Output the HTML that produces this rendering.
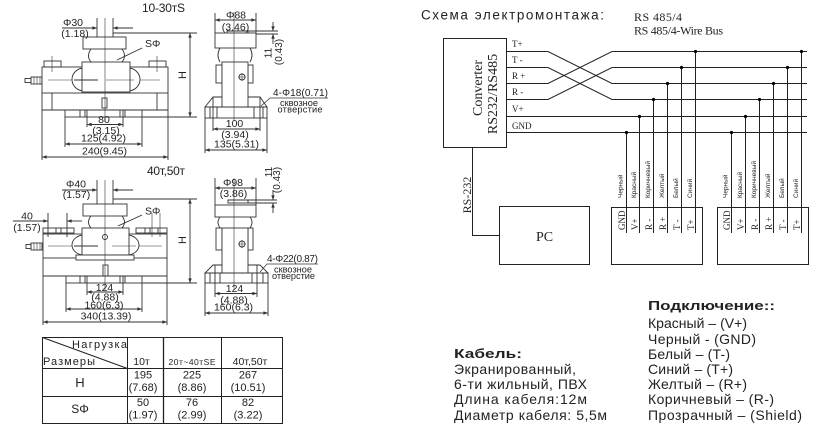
<!DOCTYPE html>
<html><head><meta charset="utf-8">
<style>
html,body{margin:0;padding:0;background:#fff;}
svg{display:block;}
text{font-family:"Liberation Sans","DejaVu Sans",sans-serif;fill:#222;stroke:none;}
.s{font-family:"Liberation Serif","DejaVu Serif",serif;}
.d{font-size:10.5px;text-anchor:middle;}
.m{text-anchor:middle;}
</style></head><body>
<svg width="824" height="427" viewBox="0 0 824 427" xmlns="http://www.w3.org/2000/svg">
<defs>
<marker id="ar" viewBox="0 0 8 6" refX="8" refY="3" markerWidth="5" markerHeight="3.5" markerUnits="userSpaceOnUse" orient="auto-start-reverse"><path d="M0,0L8,3L0,6z" fill="#333"/></marker>
</defs>
<rect width="824" height="427" fill="#fff"/>

<!-- ===== VIEW A (10-30t front) ===== -->
<g stroke="#333" stroke-width="0.9" fill="none">
<line x1="62" y1="28" x2="97" y2="28" marker-end="url(#ar)"/>
<line x1="133" y1="28" x2="113" y2="28" marker-end="url(#ar)"/>
<line x1="97" y1="18" x2="97" y2="37"/>
<line x1="113" y1="18" x2="113" y2="37"/>
<line x1="113" y1="33" x2="197" y2="33"/>
<line x1="190" y1="33" x2="190" y2="117" marker-start="url(#ar)" marker-end="url(#ar)"/>
<line x1="142" y1="117" x2="197" y2="117"/>
<rect x="42" y="67" width="126" height="26"/>
<line x1="48" y1="80" x2="98" y2="80" stroke-width="0.6"/>
<line x1="110" y1="80" x2="160" y2="80" stroke-width="0.6"/>
<path d="M84,68 A12,11.5 0 0 0 84,91" fill="#fff"/>
<path d="M128,68 A12,11.5 0 0 1 128,91" fill="#fff"/>
<rect x="82" y="62" width="48" height="30" fill="#fff"/>
<line x1="74" y1="80" x2="98" y2="80"/>
<line x1="106" y1="80" x2="134" y2="80" stroke-width="0.6"/>
<rect x="83" y="37" width="43" height="12" fill="#fff"/>
<path d="M91,49 Q86,56 91,62 M122,49 Q127,56 122,62"/>
<line x1="105" y1="18" x2="105" y2="122" stroke-width="0.6"/>
<rect x="44" y="61" width="17" height="6"/>
<rect x="149" y="61" width="17" height="6"/>
<line x1="52" y1="56" x2="52" y2="72" stroke-width="0.6"/>
<line x1="157" y1="56" x2="157" y2="72" stroke-width="0.6"/>
<rect x="31" y="77" width="11" height="7"/>
<rect x="25" y="78.5" width="6" height="4"/>
<path d="M34,77v7M37,77v7M40,77v7" stroke-width="0.6"/>
<line x1="52" y1="93" x2="52" y2="110"/>
<line x1="157" y1="93" x2="157" y2="110"/>
<line x1="42" y1="110" x2="168" y2="110"/>
<line x1="42" y1="93" x2="42" y2="160"/>
<line x1="168" y1="93" x2="168" y2="160"/>
<rect x="65" y="110" width="77" height="7"/>
<path d="M80,110v7M85,110v7M120,110v7M125,110v7"/>
<line x1="65" y1="117" x2="65" y2="147"/>
<line x1="142" y1="117" x2="142" y2="147"/>
<line x1="87" y1="110" x2="87" y2="127"/>
<line x1="123" y1="110" x2="123" y2="127"/>
<rect x="102" y="98" width="5" height="10"/>
<line x1="117" y1="60" x2="142" y2="48"/>
<line x1="87" y1="124.5" x2="123" y2="124.5" marker-start="url(#ar)" marker-end="url(#ar)"/>
<line x1="65" y1="144" x2="142" y2="144" marker-start="url(#ar)" marker-end="url(#ar)"/>
<line x1="42" y1="157" x2="168" y2="157" marker-start="url(#ar)" marker-end="url(#ar)"/>
</g>
<text x="142" y="12" font-size="12" textLength="43">10-30тS</text>
<text class="d" x="73" y="26">Φ30</text>
<text class="d" x="75" y="37">(1.18)</text>
<text x="145" y="47" font-size="10.5">SΦ</text>
<text class="m" transform="translate(186,75) rotate(-90)" font-size="11">H</text>
<text class="d" x="104" y="123">80</text>
<text class="d" x="106" y="134">(3.15)</text>
<text class="d" x="103.5" y="141.5">125(4.92)</text>
<text class="d" x="104.5" y="154.5">240(9.45)</text>

<!-- ===== VIEW B (10-30t side) ===== -->
<g stroke="#333" stroke-width="0.9" fill="none">
<line x1="215" y1="20" x2="256" y2="20" marker-start="url(#ar)" marker-end="url(#ar)"/>
<line x1="215" y1="13" x2="215" y2="33"/>
<line x1="256" y1="13" x2="256" y2="33"/>
<line x1="227" y1="31" x2="278" y2="31"/>
<line x1="248" y1="34" x2="278" y2="34"/>
<line x1="273" y1="22" x2="273" y2="31" marker-end="url(#ar)"/>
<line x1="273" y1="44" x2="273" y2="34" marker-end="url(#ar)"/>
<rect x="227" y="31" width="21" height="3"/>
<rect x="215" y="33" width="41" height="15" fill="#fff"/>
<path d="M220,48 Q216,55 220,62 M250,48 Q254,55 250,62"/>
<rect x="216" y="65" width="6" height="18"/>
<rect x="248" y="65" width="5" height="18"/>
<path d="M213,97 L260,97 L267,107 L205,107 Z"/>
<rect x="222" y="62" width="26" height="45" fill="#fff"/>
<rect x="205" y="107" width="62" height="11"/>
<path d="M210,107v11 M213,97v21 M217,107v11 M254,107v11 M260,97v21 M263,107v11"/>
<circle cx="242" cy="77" r="3"/>
<path d="M238,77h8M242,73v8" stroke-width="0.6"/>
<line x1="234" y1="12" x2="234" y2="121" stroke-width="0.6"/>
<path d="M213,118V131 M260,118V131 M205,118V153 M267,118V153"/>
<line x1="213" y1="129" x2="260" y2="129" marker-start="url(#ar)" marker-end="url(#ar)"/>
<line x1="205" y1="150" x2="267" y2="150" marker-start="url(#ar)" marker-end="url(#ar)"/>
<path d="M261,106 L270,98 L328,98" stroke-width="0.7"/>
</g>
<text class="d" x="236" y="18.5">Φ88</text>
<text class="d" x="235.5" y="30.5">(3.46)</text>
<text class="m" transform="translate(271.5,53) rotate(-90)" font-size="10">11</text>
<text class="m" transform="translate(282,52) rotate(-90)" font-size="10">(0.43)</text>
<text x="273" y="96" font-size="10" textLength="55">4-Φ18(0.71)</text>
<text class="m" x="299" y="106" font-size="9.2" textLength="38">сквозное</text>
<text class="m" x="300" y="112.5" font-size="9.2" textLength="45">отверстие</text>
<text class="d" x="234.5" y="127">100</text>
<text class="d" x="235" y="138">(3.94)</text>
<text class="d" x="236.5" y="147.5">135(5.31)</text>

<!-- ===== VIEW C (40-50t front) ===== -->
<g stroke="#333" stroke-width="0.9" fill="none">
<line x1="62" y1="190" x2="97" y2="190" marker-end="url(#ar)"/>
<line x1="133" y1="190" x2="113" y2="190" marker-end="url(#ar)"/>
<line x1="97" y1="180" x2="97" y2="204"/>
<line x1="113" y1="180" x2="113" y2="204"/>
<line x1="113" y1="199" x2="197" y2="199"/>
<line x1="190" y1="199" x2="190" y2="283" marker-start="url(#ar)" marker-end="url(#ar)"/>
<line x1="142" y1="283" x2="197" y2="283"/>
<line x1="13" y1="221" x2="48" y2="221" marker-end="url(#ar)"/>
<line x1="82" y1="221" x2="67" y2="221" marker-end="url(#ar)"/>
<line x1="48" y1="213" x2="48" y2="237"/>
<line x1="67" y1="213" x2="67" y2="237"/>
<rect x="43" y="228" width="31" height="5"/>
<rect x="136" y="228" width="31" height="5"/>
<path d="M56,228v5M61,228v5M145,228v5M150,228v5M158,228v5"/>
<line x1="152" y1="213" x2="152" y2="237" stroke-width="0.6"/>
<line x1="160" y1="213" x2="160" y2="237" stroke-width="0.6"/>
<rect x="43" y="234" width="124" height="24"/>
<line x1="48" y1="246" x2="98" y2="246" stroke-width="0.6"/>
<line x1="112" y1="246" x2="162" y2="246" stroke-width="0.6"/>
<path d="M84,235 A12,10 0 0 0 84,255" fill="#fff"/>
<path d="M127,235 A12,10 0 0 1 127,255" fill="#fff"/>
<rect x="82" y="228" width="47" height="27" fill="#fff"/>
<line x1="74" y1="246" x2="98" y2="246"/>
<line x1="112" y1="246" x2="136" y2="246" stroke-width="0.6"/>
<rect x="76" y="255" width="58" height="5" fill="#fff"/>
<rect x="83" y="204" width="44" height="12" fill="#fff"/>
<path d="M91,216 Q86,222 91,228 M122,216 Q127,222 122,228"/>
<circle cx="105" cy="237" r="2.5"/>
<line x1="105" y1="180" x2="105" y2="290" stroke-width="0.6"/>
<rect x="31" y="243" width="11" height="7"/>
<rect x="26" y="244.5" width="5" height="4"/>
<path d="M34,243v7M37,243v7M40,243v7" stroke-width="0.6"/>
<line x1="43" y1="258" x2="43" y2="325"/>
<line x1="167" y1="258" x2="167" y2="325"/>
<line x1="43" y1="276" x2="167" y2="276"/>
<rect x="66" y="276" width="76" height="7"/>
<path d="M80,276v7M85,276v7M120,276v7M125,276v7"/>
<line x1="66" y1="283" x2="66" y2="312"/>
<line x1="142" y1="283" x2="142" y2="312"/>
<line x1="87" y1="276" x2="87" y2="295"/>
<line x1="123" y1="276" x2="123" y2="295"/>
<rect x="103" y="265" width="5" height="11"/>
<line x1="118" y1="226" x2="142" y2="215"/>
<line x1="87" y1="292" x2="123" y2="292" marker-start="url(#ar)" marker-end="url(#ar)"/>
<line x1="66" y1="309" x2="142" y2="309" marker-start="url(#ar)" marker-end="url(#ar)"/>
<line x1="43" y1="322" x2="167" y2="322" marker-start="url(#ar)" marker-end="url(#ar)"/>
</g>
<text x="147" y="175" font-size="12" textLength="38">40т,50т</text>
<text class="d" x="76" y="187.5">Φ40</text>
<text class="d" x="76.5" y="198">(1.57)</text>
<text class="d" x="27" y="219.5">40</text>
<text class="d" x="27" y="231">(1.57)</text>
<text x="145" y="214.5" font-size="10.5">SΦ</text>
<text class="m" transform="translate(186,240) rotate(-90)" font-size="11">H</text>
<text class="d" x="104.5" y="291">124</text>
<text class="d" x="105" y="300.5">(4.88)</text>
<text class="d" x="104" y="308.5">160(6.3)</text>
<text class="d" x="106" y="319.5">340(13.39)</text>

<!-- ===== VIEW D (40-50t side) ===== -->
<g stroke="#333" stroke-width="0.9" fill="none">
<line x1="215" y1="188" x2="256" y2="188" marker-start="url(#ar)" marker-end="url(#ar)"/>
<line x1="215" y1="178" x2="215" y2="205"/>
<line x1="256" y1="178" x2="256" y2="205"/>
<line x1="228" y1="200" x2="277" y2="200"/>
<line x1="248" y1="203" x2="277" y2="203"/>
<line x1="273" y1="190" x2="273" y2="200" marker-end="url(#ar)"/>
<line x1="273" y1="213" x2="273" y2="203" marker-end="url(#ar)"/>
<rect x="228" y="200" width="20" height="3"/>
<rect x="215" y="205" width="41" height="12" fill="#fff"/>
<path d="M220,217 Q216,222 220,228 M250,217 Q254,222 250,228"/>
<rect x="216" y="228" width="6" height="22"/>
<rect x="248" y="228" width="5" height="22"/>
<path d="M213,265 L260,265 L268,273 L205,273 Z"/>
<rect x="222" y="228" width="26" height="45" fill="#fff"/>
<rect x="205" y="273" width="63" height="10"/>
<path d="M210,273v10 M215,265v18 M220,273v10 M252,273v10 M257,265v18 M263,273v10"/>
<circle cx="242" cy="244" r="3"/>
<path d="M238,244h8M242,240v8" stroke-width="0.6"/>
<line x1="234" y1="178" x2="234" y2="290" stroke-width="0.6"/>
<path d="M215,283V297 M257,283V297 M205,283V316 M268,283V316"/>
<line x1="215" y1="293.5" x2="257" y2="293.5" marker-start="url(#ar)" marker-end="url(#ar)"/>
<line x1="205" y1="313" x2="268" y2="313" marker-start="url(#ar)" marker-end="url(#ar)"/>
<path d="M260,272 L267,264 L318,264" stroke-width="0.7"/>
</g>
<text class="d" x="233" y="186">Φ98</text>
<text class="d" x="233.5" y="197">(3.86)</text>
<text class="m" transform="translate(272,172) rotate(-90)" font-size="10">11</text>
<text class="m" transform="translate(280,180) rotate(-90)" font-size="10">(0.43)</text>
<text x="267" y="262" font-size="10" textLength="51">4-Φ22(0.87)</text>
<text class="m" x="293" y="272.5" font-size="9.2" textLength="38">сквозное</text>
<text class="m" x="293.5" y="279" font-size="9.2" textLength="43">отверстие</text>
<text class="d" x="234.5" y="292">124</text>
<text class="d" x="234" y="303.5">(4.88)</text>
<text class="d" x="233.5" y="310.5">160(6.3)</text>

<!-- ===== TABLE ===== -->
<g stroke="#222" stroke-width="1" fill="none">
<rect x="42.5" y="337.5" width="240" height="86"/>
<path d="M42.5,368.5H282.5 M42.5,396.5H282.5 M127.5,337.5V423.5 M221.5,337.5V423.5 M42.5,337.5L127.5,368.5"/>
<path d="M163.5,337.5V423.5" stroke-width="1.3"/>
</g>
<text x="72" y="348" font-size="11" textLength="55">Нагрузка</text>
<text x="43" y="365" font-size="11" textLength="52">Размеры</text>
<text class="m" x="141.5" y="365" font-size="10.5">10т</text>
<text class="m" x="192" y="365" font-size="8.5" textLength="47">20т~40тSE</text>
<text class="m" x="250" y="365" font-size="10.5">40т,50т</text>
<text class="m" x="80" y="387" font-size="13">H</text>
<text class="m" x="143" y="378.5" font-size="11">195</text>
<text class="m" x="143" y="391" font-size="11">(7.68)</text>
<text class="m" x="192" y="378.5" font-size="11">225</text>
<text class="m" x="192" y="391" font-size="11">(8.86)</text>
<text class="m" x="248" y="378.5" font-size="11">267</text>
<text class="m" x="248" y="391" font-size="11">(10.51)</text>
<text class="m" x="80" y="413" font-size="12">SΦ</text>
<text class="m" x="143" y="406" font-size="11">50</text>
<text class="m" x="143" y="418.5" font-size="11">(1.97)</text>
<text class="m" x="192" y="406" font-size="11">76</text>
<text class="m" x="192" y="418.5" font-size="11">(2.99)</text>
<text class="m" x="248" y="406" font-size="11">82</text>
<text class="m" x="248" y="418.5" font-size="11">(3.22)</text>

<!-- ===== WIRING ===== -->
<text x="421" y="19.5" font-size="13.5" textLength="183">Схема электромонтажа:</text>
<text class="s" x="634" y="21" font-size="12" textLength="48">RS 485/4</text>
<text class="s" x="634" y="34.5" font-size="12" textLength="89">RS 485/4-Wire Bus</text>
<g stroke="#222" stroke-width="1" fill="none">
<rect x="443.5" y="38.5" width="63" height="109"/>
<path d="M506,51.5H548L612,83.5H807 M506,67.5H548L612,99.5H807 M506,83.5H548L612,51.5H807 M506,99.5H548L612,67.5H807 M506,116.5H807 M506,132.5H807"/>
<path d="M626.5,132V233 M639.5,116V233 M653.5,99V233 M667.5,83V233 M681.5,67V233 M695.5,51V233 M731.5,132V233 M745.5,116V233 M759.5,99V233 M773.5,83V233 M787.5,67V233 M801.5,51V233"/>
<rect x="611.5" y="207.5" width="91" height="57"/>
<rect x="717.5" y="207.5" width="91" height="57"/>
<rect x="499.5" y="206.5" width="90" height="58"/>
<path d="M472.5,147V235.5H499"/>
</g>
<g fill="#000">
<circle cx="626.5" cy="132.5" r="1.6"/><circle cx="639.5" cy="116.5" r="1.6"/><circle cx="653.5" cy="99.5" r="1.6"/><circle cx="667.5" cy="83.5" r="1.6"/><circle cx="681.5" cy="67.5" r="1.6"/><circle cx="695.5" cy="51.5" r="1.6"/>
<circle cx="731.5" cy="132.5" r="1.6"/><circle cx="745.5" cy="116.5" r="1.6"/><circle cx="759.5" cy="99.5" r="1.6"/><circle cx="773.5" cy="83.5" r="1.6"/><circle cx="787.5" cy="67.5" r="1.6"/><circle cx="801.5" cy="51.5" r="1.6"/>
</g>
<g font-size="9">
<text class="s" x="512" y="47">T+</text>
<text class="s" x="512" y="63">T -</text>
<text class="s" x="512" y="79">R +</text>
<text class="s" x="512" y="95">R -</text>
<text class="s" x="512" y="112">V+</text>
<text class="s" x="512" y="129">GND</text>
</g>
<text class="s m" transform="translate(482,88) rotate(-90)" font-size="14">Converter</text>
<text class="s m" transform="translate(497,94) rotate(-90)" font-size="14">RS232/RS485</text>
<text class="s m" transform="translate(471,195) rotate(-90)" font-size="12">RS-232</text>
<text class="s m" x="544.5" y="241" font-size="14">PC</text>

<g font-size="9">
<text class="s" transform="translate(625,230) rotate(-90)">GND</text>
<text class="s" transform="translate(638,230) rotate(-90)">V+</text>
<text class="s" transform="translate(652,230) rotate(-90)">R -</text>
<text class="s" transform="translate(666,230) rotate(-90)">R +</text>
<text class="s" transform="translate(680,230) rotate(-90)">T -</text>
<text class="s" transform="translate(694,230) rotate(-90)">T+</text>
<text class="s" transform="translate(730,230) rotate(-90)">GND</text>
<text class="s" transform="translate(744,230) rotate(-90)">V+</text>
<text class="s" transform="translate(758,230) rotate(-90)">R -</text>
<text class="s" transform="translate(772,230) rotate(-90)">R +</text>
<text class="s" transform="translate(786,230) rotate(-90)">T -</text>
<text class="s" transform="translate(800,230) rotate(-90)">T+</text>
</g>
<g font-size="6.5">
<text transform="translate(622.5,198) rotate(-90)">Черный</text>
<text transform="translate(636,198) rotate(-90)">Красный</text>
<text transform="translate(650,198) rotate(-90)">Коричневый</text>
<text transform="translate(664,198) rotate(-90)">Желтый</text>
<text transform="translate(678,198) rotate(-90)">Белый</text>
<text transform="translate(692,198) rotate(-90)">Синий</text>
<text transform="translate(727.5,198) rotate(-90)">Черный</text>
<text transform="translate(742,198) rotate(-90)">Красный</text>
<text transform="translate(756,198) rotate(-90)">Коричневый</text>
<text transform="translate(770,198) rotate(-90)">Желтый</text>
<text transform="translate(784,198) rotate(-90)">Белый</text>
<text transform="translate(798,198) rotate(-90)">Синий</text>
</g>

<!-- ===== BOTTOM TEXT ===== -->
<text x="648" y="310" font-size="13" font-weight="bold" textLength="127" lengthAdjust="spacingAndGlyphs">Подключение::</text>
<g font-size="14">
<text x="648" y="328" textLength="99">Красный – (V+)</text>
<text x="648" y="344" textLength="108">Черный - (GND)</text>
<text x="648" y="359" textLength="82">Белый – (T-)</text>
<text x="648" y="374" textLength="85">Синий – (T+)</text>
<text x="648" y="389" textLength="99">Желтый – (R+)</text>
<text x="648" y="404" textLength="126">Коричневый – (R-)</text>
<text x="648" y="420" textLength="154">Прозрачный – (Shield)</text>
<text x="454" y="374" textLength="122">Экранированный,</text>
<text x="454" y="389" textLength="133">6-ти жильный, ПВХ</text>
<text x="454" y="404" textLength="133">Длина кабеля:12м</text>
<text x="454" y="420" textLength="153">Диаметр кабеля: 5,5м</text>
</g>
<text x="454" y="358" font-size="13" font-weight="bold" textLength="68" lengthAdjust="spacingAndGlyphs">Кабель:</text>
</svg>
</body></html>
